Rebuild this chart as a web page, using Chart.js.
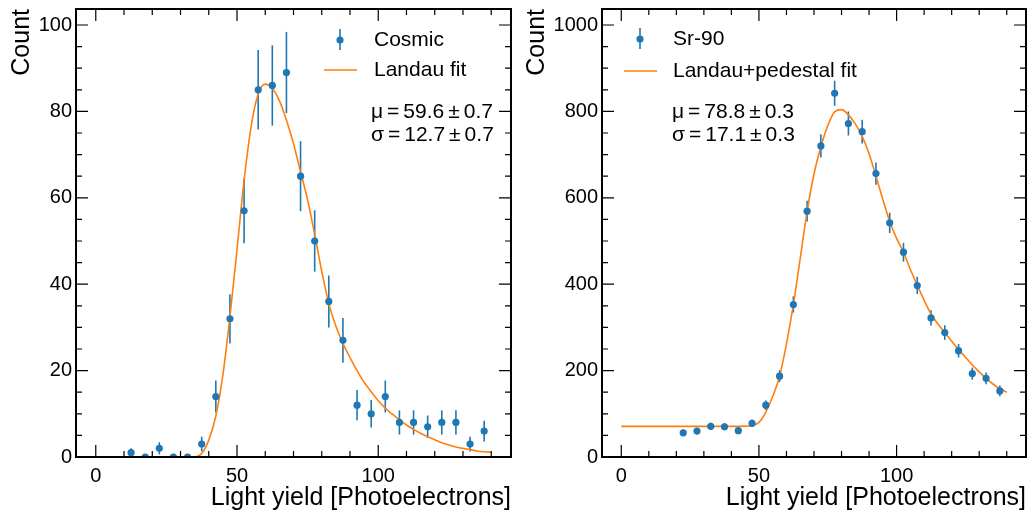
<!DOCTYPE html>
<html>
<head>
<meta charset="utf-8">
<script src="https://cdn.jsdelivr.net/npm/chart.js@4.4.1/dist/chart.umd.min.js"></script>
<style>
html, body { margin: 0; padding: 0; background: #fff; }
#wrap { position: relative; width: 1030px; height: 510px; }
.panel { position: absolute; top: 0; width: 515px; height: 510px; }
</style>
</head>
<body>
<div id="wrap">
  <div class="panel" style="left:0"><canvas id="cosmicChart"></canvas></div>
  <div class="panel" style="left:515px"><canvas id="srChart"></canvas></div>
</div>
<script>
// axis ticks (shared x)
const xMajorTicks = [0, 50, 100];
const xMinorTicks = [10, 20, 30, 40, 60, 70, 80, 90, 110, 120, 130, 140];

const cosmicYMajor = [0, 20, 40, 60, 80, 100];
const cosmicYMinor = [5, 10, 15, 25, 30, 35, 45, 50, 55, 65, 70, 75, 85, 90, 95];
const srYMajor = [0, 200, 400, 600, 800, 1000];
const srYMinor = [50, 100, 150, 250, 300, 350, 450, 500, 550, 650, 700, 750, 850, 900, 950];

// Cosmic data
const cosmicBins = [12.5, 17.5, 22.5, 27.5, 32.5, 37.5, 42.5, 47.5, 52.5, 57.5, 62.5, 67.5, 72.5,
    77.5, 82.5, 87.5, 92.5, 97.5, 102.5, 107.5, 112.5, 117.5, 122.5, 127.5, 132.5, 137.5];
const cosmicCounts = [1, 0, 2, 0, 0, 3, 14, 32, 57, 85, 86, 89, 65,
    50, 36, 27, 12, 10, 14, 8, 8, 7, 8, 8, 3, 6];
const cosmicErrors = [1, 0, 1.4, 0, 0, 1.7, 3.7, 5.7, 7.5, 9.2, 9.3, 9.4, 8.1,
    7.1, 6, 5.2, 3.5, 3.2, 3.7, 2.8, 2.8, 2.6, 2.8, 2.8, 1.7, 2.4];
const cosmicFitX = [0, 10, 20, 30, 35, 37.5, 40, 42.5, 45, 47.5, 50, 52.5, 55, 57.5, 60, 62.5, 65,
    67.5, 70, 72.5, 75, 77.5, 80, 82.5, 85, 87.5, 90, 92.5, 95, 97.5, 100, 102.5, 105, 107.5,
    110, 112.5, 115, 117.5, 120, 122.5, 125, 127.5, 130, 132.5, 135, 137.5, 140];
const cosmicFitY = [0, 0, 0, 0, 0, 0.8, 3.9, 9.5, 19, 32.5, 48, 64, 76.5, 84, 86.3, 85.3, 82.5,
    78, 72.5, 66, 59.5, 51.5, 43, 35.5, 30.3, 26.3, 23, 20, 17.3, 15.1, 13, 11.3, 9.9, 8.6,
    7.4, 6.4, 5.5, 4.7, 4, 3.3, 2.8, 2.3, 2, 1.7, 1.4, 1.2, 1.1];

// Sr-90 data
const srBins = [22.5, 27.5, 32.5, 37.5, 42.5, 47.5, 52.5, 57.5, 62.5, 67.5, 72.5, 77.5,
    82.5, 87.5, 92.5, 97.5, 102.5, 107.5, 112.5, 117.5, 122.5, 127.5, 132.5, 137.5];
const srCounts = [56, 60, 71, 70, 61, 78, 120, 187, 353, 569, 720, 842,
    772, 753, 656, 542, 474, 397, 322, 288, 246, 193, 182, 153];
const srErrors = [7.5, 7.7, 8.4, 8.4, 7.8, 8.8, 11, 13.7, 18.8, 23.9, 26.8, 29,
    27.8, 27.4, 25.6, 23.3, 21.8, 19.9, 17.9, 17, 15.7, 13.9, 13.5, 12.4];
const srFitX = [0, 10, 20, 30, 40, 45, 47.5, 50, 52.5, 55, 57.5, 60, 62.5, 65, 67.5, 70, 72.5,
    75, 77.5, 80, 82.5, 85, 87.5, 90, 92.5, 95, 97.5, 100, 102.5, 105, 107.5, 110, 112.5,
    115, 117.5, 120, 122.5, 125, 127.5, 130, 132.5, 135, 137.5, 140];
const srFitY = [71, 71, 71, 71, 71, 71.5, 73, 80, 104, 140, 187, 262, 352, 460, 568, 655, 718,
    767, 799, 804, 792, 771, 742, 702, 650, 596, 545, 506, 474, 434, 398, 363, 331,
    308, 288, 268, 249, 231, 213, 197, 182, 169, 158, 150];

const BLUE = '#1f77b4';
const ORANGE = '#ff7f0e';
const FONT = "'Liberation Sans', Arial, Helvetica, sans-serif";

Chart.defaults.font.family = FONT;
Chart.defaults.color = '#000';

const errorBars = {
    id: 'errorBars',
    beforeDatasetsDraw(chart) {
        const { ctx, chartArea: a, scales: { x, y } } = chart;
        ctx.save();
        ctx.beginPath();
        ctx.rect(a.left, a.top, a.width, a.height);
        ctx.clip();
        ctx.strokeStyle = BLUE;
        ctx.lineWidth = 1.6;
        chart.data.datasets.forEach(ds => {
            if (!ds.errors) return;
            ds.data.forEach((p, i) => {
                const e = ds.errors[i];
                if (!e) return;
                const px = x.getPixelForValue(p.x);
                ctx.beginPath();
                ctx.moveTo(px, y.getPixelForValue(p.y - e));
                ctx.lineTo(px, y.getPixelForValue(p.y + e));
                ctx.stroke();
            });
        });
        ctx.restore();
    }
};

const frameTicks = {
    id: 'frameTicks',
    afterDraw(chart, args, opts) {
        const { ctx, chartArea: a, scales: { x, y } } = chart;
        ctx.save();
        ctx.strokeStyle = '#000';
        ctx.lineWidth = 1.2;
        ctx.beginPath();
        const xTick = (v, len) => {
            const px = x.getPixelForValue(v);
            ctx.moveTo(px, a.bottom); ctx.lineTo(px, a.bottom - len);
            ctx.moveTo(px, a.top); ctx.lineTo(px, a.top + len);
        };
        const yTick = (v, len) => {
            const py = y.getPixelForValue(v);
            ctx.moveTo(a.left, py); ctx.lineTo(a.left + len, py);
            ctx.moveTo(a.right, py); ctx.lineTo(a.right - len, py);
        };
        xMajorTicks.forEach(v => xTick(v, 12));
        xMinorTicks.forEach(v => xTick(v, 6));
        opts.yMajor.forEach(v => yTick(v, 12));
        opts.yMinor.forEach(v => yTick(v, 6));
        ctx.stroke();
        ctx.lineWidth = 2;
        ctx.strokeRect(a.left, a.top, a.width, a.height);

        // axis titles
        ctx.fillStyle = '#000';
        ctx.font = '25px ' + FONT;
        ctx.textAlign = 'right';
        ctx.textBaseline = 'alphabetic';
        ctx.fillText('Light yield [Photoelectrons]', a.right, 505);
        ctx.translate(29, a.top);
        ctx.rotate(-Math.PI / 2);
        ctx.fillText('Count', 0, 0);
        ctx.restore();
    }
};

const fitLegend = {
    id: 'fitLegend',
    afterDraw(chart, args, opts) {
        const { ctx } = chart;
        ctx.save();
        // data marker with error bar
        ctx.strokeStyle = BLUE;
        ctx.fillStyle = BLUE;
        ctx.lineWidth = 1.6;
        ctx.beginPath();
        ctx.moveTo(opts.markerX, opts.rowY[0] - 11);
        ctx.lineTo(opts.markerX, opts.rowY[0] + 10);
        ctx.stroke();
        ctx.beginPath();
        ctx.arc(opts.markerX, opts.rowY[0], 3.6, 0, Math.PI * 2);
        ctx.fill();
        // fit line
        ctx.strokeStyle = ORANGE;
        ctx.beginPath();
        ctx.moveTo(opts.markerX - 16, opts.rowY[1]);
        ctx.lineTo(opts.markerX + 17, opts.rowY[1]);
        ctx.stroke();

        ctx.fillStyle = '#000';
        ctx.font = '21px ' + FONT;
        ctx.textAlign = 'left';
        ctx.textBaseline = 'middle';
        ctx.fillText(opts.labels[0], opts.textX, opts.rowY[0]);
        ctx.fillText(opts.labels[1], opts.textX, opts.rowY[1]);

        // fit parameters, mathtext-like spacing
        ctx.font = '21px ' + FONT;
        opts.stats.forEach((parts, i) => {
            let cx = opts.statX;
            parts.forEach(part => {
                ctx.fillText(part, cx, opts.statY[i]);
                cx += ctx.measureText(part).width + 4;
            });
        });
        ctx.restore();
    }
};

function makeChart(id, cfg) {
    const points = cfg.bins.map((b, i) => ({ x: b, y: cfg.counts[i] }));
    const fit = cfg.fitX.map((v, i) => ({ x: v, y: cfg.fitY[i] }));

    return new Chart(document.getElementById(id), {
        type: 'scatter',
        data: {
            datasets: [
                {
                    type: 'line',
                    data: fit,
                    borderColor: ORANGE,
                    borderWidth: 1.6,
                    pointRadius: 0,
                    cubicInterpolationMode: 'monotone',
                    fill: false,
                    clip: 0,
                    order: 2
                },
                {
                    data: points,
                    errors: cfg.errors,
                    backgroundColor: BLUE,
                    borderWidth: 0,
                    pointRadius: 3.6,
                    clip: 0,
                    order: 1
                }
            ]
        },
        options: {
            responsive: true,
            maintainAspectRatio: false,
            animation: false,
            devicePixelRatio: 1,
            layout: { padding: { top: 9, right: 3, left: 0, bottom: 0 } },
            plugins: {
                legend: { display: false },
                tooltip: { enabled: false },
                frameTicks: { yMajor: cfg.yMajor, yMinor: cfg.yMinor },
                fitLegend: cfg.legend
            },
            scales: {
                x: {
                    type: 'linear',
                    min: -7,
                    max: 147,
                    grid: { display: false, drawTicks: false },
                    border: { display: false },
                    ticks: { font: { size: 20 }, padding: 7, maxRotation: 0, callback: v => String(v) },
                    afterBuildTicks: s => { s.ticks = xMajorTicks.map(v => ({ value: v })); },
                    afterFit: s => {
                        s.height = 53;
                        s.paddingLeft = 0; s.paddingRight = 0;
                    }
                },
                y: {
                    type: 'linear',
                    min: 0,
                    max: cfg.yMax,
                    grid: { display: false, drawTicks: false },
                    border: { display: false },
                    ticks: { font: { size: 20 }, padding: 4, callback: v => String(v) },
                    afterBuildTicks: s => { s.ticks = cfg.yMajor.map(v => ({ value: v })); },
                    afterFit: s => {
                        s.width = cfg.yWidth;
                        s.paddingTop = 0; s.paddingBottom = 0;
                    }
                }
            }
        },
        plugins: [errorBars, frameTicks, fitLegend]
    });
}

makeChart('cosmicChart', {
    bins: cosmicBins, counts: cosmicCounts, errors: cosmicErrors,
    fitX: cosmicFitX, fitY: cosmicFitY,
    yMax: 103.7, yMajor: cosmicYMajor, yMinor: cosmicYMinor, yWidth: 76,
    legend: {
        markerX: 340, textX: 374, rowY: [40, 70],
        labels: ['Cosmic', 'Landau fit'],
        statX: 371, statY: [112, 135],
        stats: [['μ', '=', '59.6', '±', '0.7'], ['σ', '=', '12.7', '±', '0.7']]
    }
});

makeChart('srChart', {
    bins: srBins, counts: srCounts, errors: srErrors,
    fitX: srFitX, fitY: srFitY,
    yMax: 1037, yMajor: srYMajor, yMinor: srYMinor, yWidth: 87,
    legend: {
        markerX: 125, textX: 158, rowY: [39, 71],
        labels: ['Sr-90', 'Landau+pedestal fit'],
        statX: 157, statY: [112, 135],
        stats: [['μ', '=', '78.8', '±', '0.3'], ['σ', '=', '17.1', '±', '0.3']]
    }
});
</script>
</body>
</html>
